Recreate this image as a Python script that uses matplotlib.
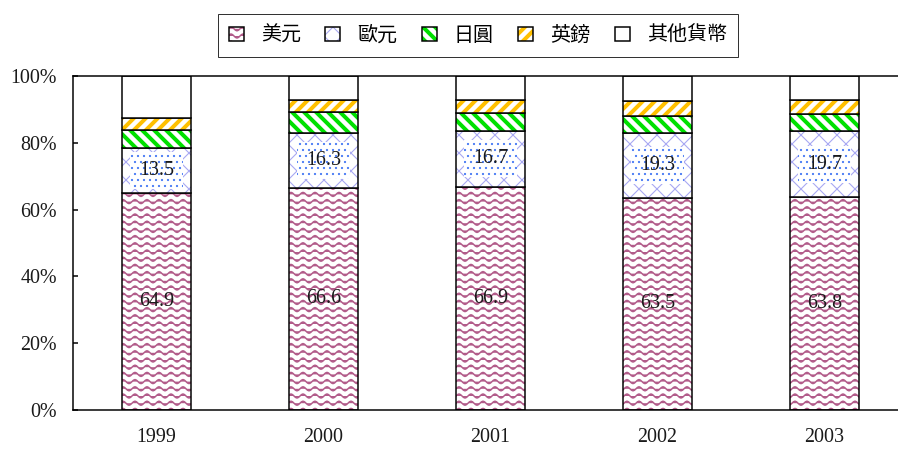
import numpy as np
import matplotlib
matplotlib.use('Agg')
import matplotlib.pyplot as plt
from matplotlib import hatch as mhatch
from matplotlib.path import Path
from matplotlib.colors import to_rgba

# data (share of reserves, %)
years = ['1999', '2000', '2001', '2002', '2003']
usd = [64.9, 66.6, 66.9, 63.5, 63.8]
eur = [13.5, 16.3, 16.7, 19.3, 19.7]
jpy = [5.4, 6.3, 5.2, 5.2, 5.1]
gbp = [3.7, 3.6, 4.0, 4.5, 4.2]
other = [12.5, 7.2, 7.2, 7.5, 7.2]
names = ['美元', '歐元', '日圓', '英鎊', '其他貨幣']


# wavy hatch ('~') for the dollar bars
class WaveHatch(mhatch.HatchPatternBase):
    def __init__(self, hatch, density):
        self.num_lines = hatch.count('~') * 10
        self.num_pts = 49
        self.num_vertices = (self.num_lines + 1) * self.num_pts if self.num_lines else 0

    def set_vertices_and_codes(self, vertices, codes):
        xs = np.linspace(0, 1, self.num_pts)
        wave = 0.028 * np.sin(xs * 6 * 2 * np.pi)
        ys = np.linspace(0, 1, self.num_lines + 1)
        for i, y in enumerate(ys):
            s = i * self.num_pts
            vertices[s:s + self.num_pts, 0] = xs
            vertices[s:s + self.num_pts, 1] = y + wave
            codes[s:s + self.num_pts] = Path.LINETO
            codes[s] = Path.MOVETO


# coarser diagonal cross ('k') for the euro bars
class LooseCross(mhatch.HatchPatternBase):
    def __init__(self, hatch, density):
        self.k = hatch.count('k') * 4
        self.num_vertices = 2 * 2 * (2 * self.k + 1) if self.k else 0

    def set_vertices_and_codes(self, vertices, codes):
        n = 2 * self.k + 1
        c1 = np.linspace(-1, 1, n)
        c2 = np.linspace(0, 2, n)
        vertices[0:2 * n:2] = np.column_stack([np.zeros(n), -c1])
        vertices[1:2 * n:2] = np.column_stack([np.ones(n), 1 - c1])
        vertices[2 * n::2] = np.column_stack([np.zeros(n), c2])
        vertices[2 * n + 1::2] = np.column_stack([np.ones(n), c2 - 1])
        codes[0::2] = Path.MOVETO
        codes[1::2] = Path.LINETO


mhatch._hatch_types.append(WaveHatch)
mhatch._hatch_types.append(LooseCross)

DPI = 72
fig = plt.figure(figsize=(898 / DPI, 450 / DPI), dpi=DPI)
ax = fig.add_axes([73 / 898, 40 / 450, 835 / 898, 334 / 450])

x = np.arange(len(years))
w = 0.41
series = [usd, eur, jpy, gbp, other]
styles = [('~', '#b25c8a', 1.5), ('k', '#a8a8f2', 1.1), ('\\\\', '#00e000', 4.0),
          ('//', '#ffc000', 4.0), (None, 'black', 1.0)]


def paint(p, hc, hlw):
    p._hatch_color = to_rgba(hc)
    if hasattr(p, 'set_hatch_linewidth'):
        p.set_hatch_linewidth(hlw)


bottom = np.zeros(len(years))
conts = []
for vals, (h, hc, hlw) in zip(series, styles):
    with plt.rc_context({'hatch.linewidth': hlw}):
        bars = ax.bar(x, vals, w, bottom=bottom, facecolor='white', edgecolor='black',
                      linewidth=1.5, hatch=h)
    for b in bars:
        paint(b, hc, hlw)
    conts.append(bars)
    bottom = bottom + np.array(vals)

# value labels for dollar and euro
for i in range(len(years)):
    ax.text(x[i], usd[i] / 2, '%.1f' % usd[i], ha='center', va='center',
            fontsize=20, family='Liberation Serif', color='#1a1a1a')
    ax.text(x[i], usd[i] + eur[i] / 2, '%.1f' % eur[i], ha='center', va='center',
            fontsize=20, family='Liberation Serif', color='#1a1a1a',
            bbox=dict(boxstyle='square,pad=0.45', facecolor='white', edgecolor='#4a7cf5',
                      linewidth=0, hatch='..'))

ax.set_xlim(-0.5, len(years) - 0.5)
ax.set_ylim(0, 100)
ax.set_yticks([0, 20, 40, 60, 80, 100])
ax.set_yticklabels(['0%', '20%', '40%', '60%', '80%', '100%'])
ax.set_xticks(x)
ax.set_xticklabels(years)
for lab in ax.get_xticklabels() + ax.get_yticklabels():
    lab.set_family('Liberation Serif')
    lab.set_fontsize(20)
    lab.set_color('#1a1a1a')
ax.tick_params(axis='y', direction='in', length=5, width=1.5, pad=16)
ax.tick_params(axis='x', length=0, pad=18)
for sp in ax.spines.values():
    sp.set_linewidth(1.5)

leg = fig.legend([c for c in conts], names, loc='upper left',
                 bbox_to_anchor=(218 / 898, 436 / 450), bbox_transform=fig.transFigure,
                 ncol=5, borderaxespad=0, fancybox=False, framealpha=1,
                 edgecolor='#333333', handlelength=0.75, handleheight=0.75,
                 handletextpad=0.85, columnspacing=1.22, borderpad=0.55,
                 prop={'family': ['Noto Sans CJK TC', 'DejaVu Sans'], 'size': 20})
leg.get_frame().set_linewidth(1.0)
for p, (h, hc, hlw) in zip(leg.get_patches(), styles):
    p.set_linewidth(1.5)
    paint(p, hc, hlw)

fig.savefig('out.png', dpi=DPI)
